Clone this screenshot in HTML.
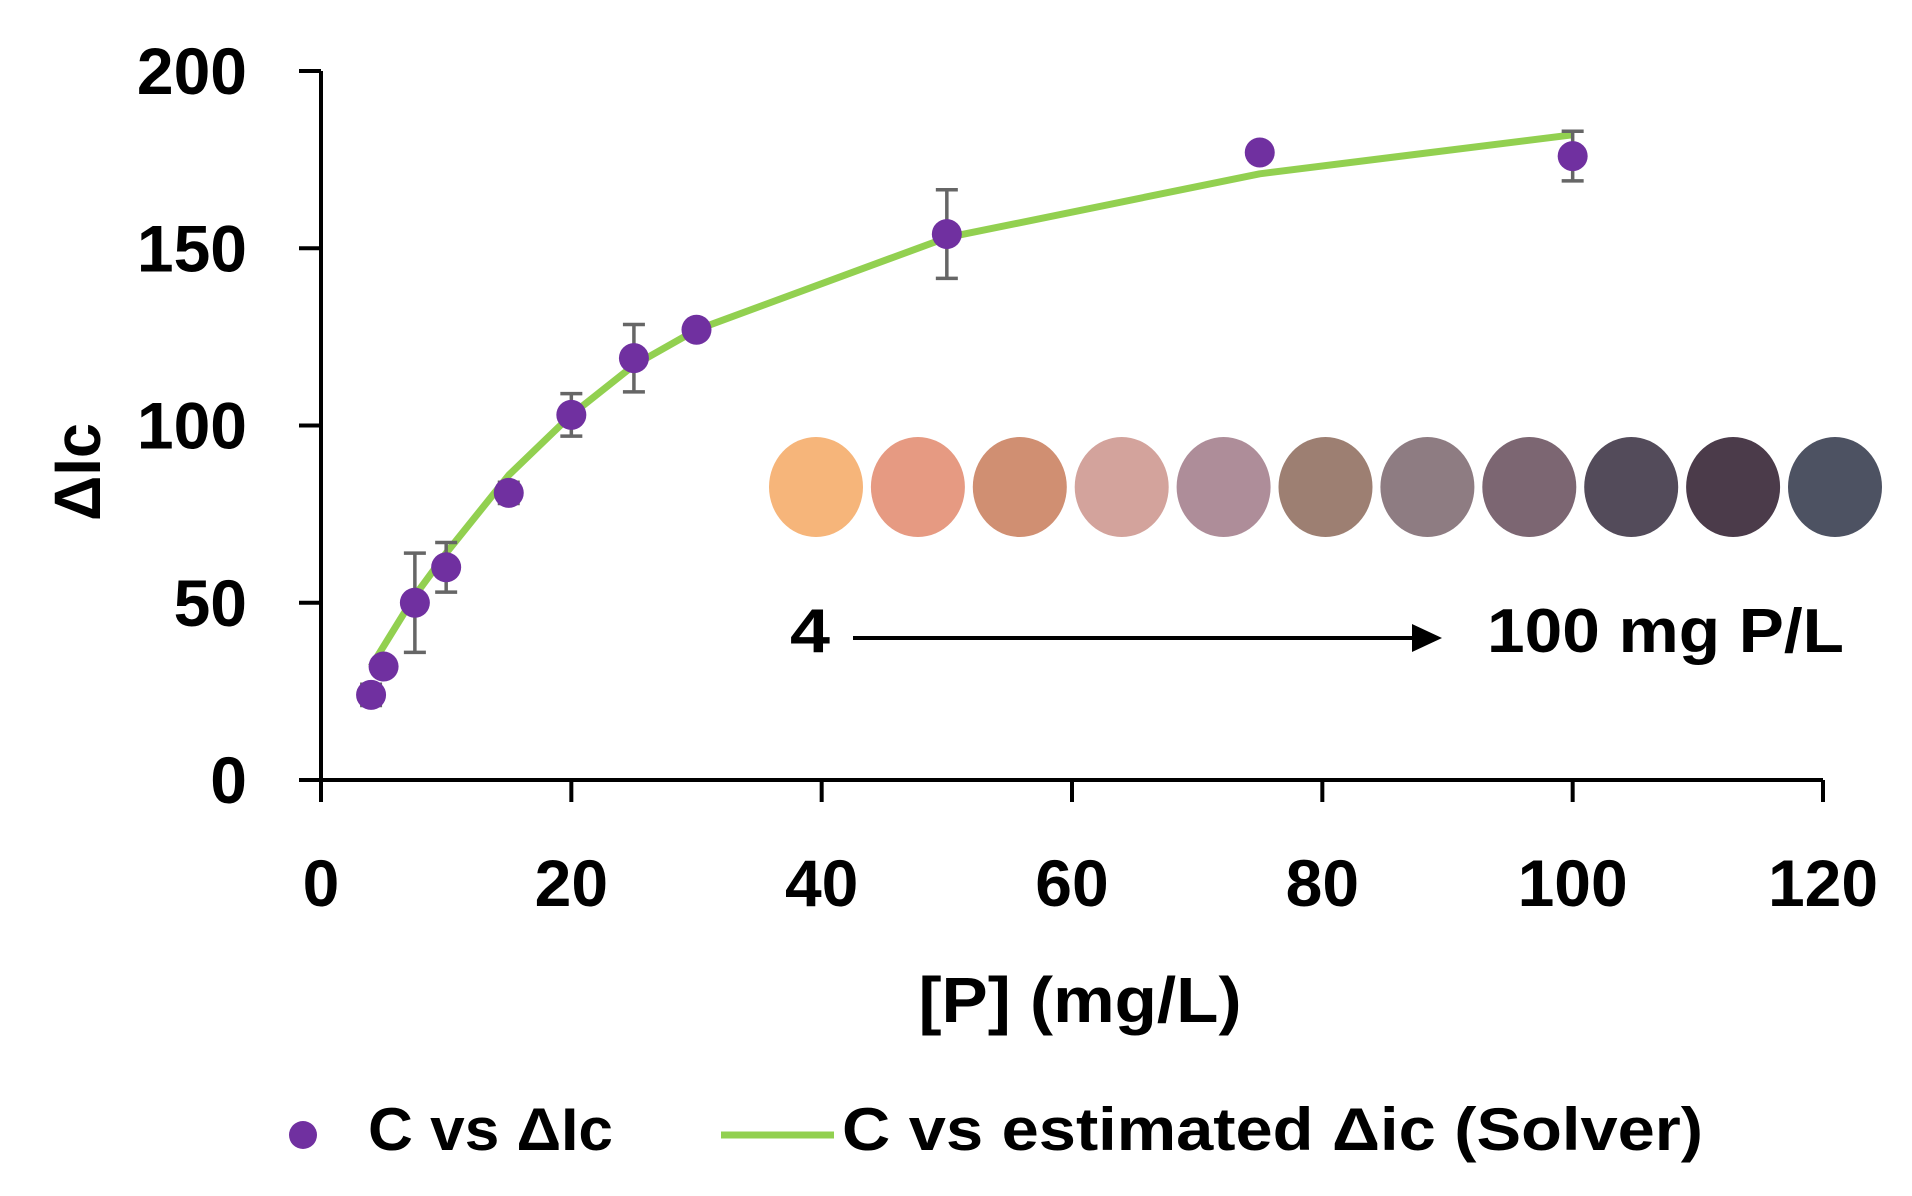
<!DOCTYPE html>
<html><head><meta charset="utf-8"><style>
html,body{margin:0;padding:0;background:#fff;}
svg{display:block;font-family:"Liberation Sans",Arial,sans-serif;font-weight:bold;}
</style></head><body>
<svg id="chart" width="1912" height="1196" viewBox="0 0 1912 1196" xmlns="http://www.w3.org/2000/svg">
<g id="swatches"></g>
<g id="axes"></g>
<g id="fit"></g>
<g id="err"></g>
<g id="pts"></g>
<text x="0" y="0" transform="translate(100,472) rotate(-90)" text-anchor="middle" font-size="66" textLength="98" lengthAdjust="spacingAndGlyphs">ΔIc</text>
<text x="1080" y="1022" text-anchor="middle" font-size="64" textLength="323" lengthAdjust="spacingAndGlyphs">[P] (mg/L)</text>
<text x="790" y="652" font-size="62" textLength="40" lengthAdjust="spacingAndGlyphs">4</text>
<line x1="853" y1="638" x2="1415" y2="638" stroke="#000" stroke-width="4"/>
<polygon points="1412,624 1442,638 1412,652" fill="#000"/>
<text x="1487" y="652" font-size="62" textLength="357" lengthAdjust="spacingAndGlyphs">100 mg P/L</text>
<g>
<circle cx="303" cy="1135" r="14" fill="#7030a0"/>
<text x="368" y="1150" font-size="60" textLength="245" lengthAdjust="spacingAndGlyphs">C vs ΔIc</text>
<line x1="721" y1="1135" x2="834" y2="1135" stroke="#92d050" stroke-width="7"/>
<text x="842" y="1150" font-size="60" textLength="861" lengthAdjust="spacingAndGlyphs">C vs estimated Δic (Solver)</text>
</g>
</svg>
<script>
const xValues=[4,5,7.5,10,15,20,25,30,50,75,100];
const yValues=[24,32,50,60,81,103,119,127,154,177,176];
const yErrors=[3,0,14,7,3,6,9.5,0,12.5,0,7];
const fitX=[4,7.5,10,15,20,25,30,50,75,100];
const fitY=[32,52,64,86,103,117,127,153,171,182];
const xTicks=[0,20,40,60,80,100,120];
const yTicks=[0,50,100,150,200];
const swatchColors=["#f6b57a","#e69a82","#d08f72","#d3a39c","#ae8d99","#9d7f72","#8e7c82","#7c6672","#534b5a","#4b3b4a","#4d5262"];

const NS="http://www.w3.org/2000/svg";
const X0=321,XPX=(1823-321)/120,Y0=780,YPX=(780-71)/200;
const sx=v=>X0+v*XPX, sy=v=>Y0-v*YPX;
function mk(tag,attrs,parent){const e=document.createElementNS(NS,tag);for(const k in attrs)e.setAttribute(k,attrs[k]);parent.appendChild(e);return e;}

const sw=document.getElementById('swatches');
swatchColors.forEach((c,i)=>{
  const e=mk('ellipse',{cx:816+i*101.9,cy:487,rx:47,ry:50,fill:c},sw);
  
  
});

const ax=document.getElementById('axes');
let a=mk('line',{x1:X0,y1:sy(200),x2:X0,y2:Y0,stroke:'#000','stroke-width':4},ax);


a=mk('line',{x1:X0-22,y1:Y0,x2:sx(120),y2:Y0,stroke:'#000','stroke-width':4},ax);


yTicks.forEach(t=>{
  const l=mk('line',{x1:X0-22,y1:sy(t),x2:X0,y2:sy(t),stroke:'#000','stroke-width':4},ax);
  
  
  const tx=mk('text',{x:247,y:sy(t)+23,'text-anchor':'end','font-size':66},ax);
  tx.textContent=t;
  
  
});
xTicks.forEach(t=>{
  const l=mk('line',{x1:sx(t),y1:Y0,x2:sx(t),y2:Y0+22,stroke:'#000','stroke-width':4},ax);
  
  
  const tx=mk('text',{x:sx(t),y:906,'text-anchor':'middle','font-size':66},ax);
  tx.textContent=t;
  
  
});

const fit=document.getElementById('fit');
const pl=mk('polyline',{points:fitX.map((x,i)=>sx(x)+','+sy(fitY[i])).join(' '),fill:'none',stroke:'#92d050','stroke-width':7,'stroke-linejoin':'round'},fit);



const eg=document.getElementById('err'),pg=document.getElementById('pts');
xValues.forEach((x,i)=>{
  const e=yErrors[i];
  if(e>0){
    const cx=sx(x),t=sy(yValues[i]+e),b=sy(yValues[i]-e);
    const p=mk('path',{d:`M${cx},${t}V${b}M${cx-11},${t}H${cx+11}M${cx-11},${b}H${cx+11}`,stroke:'#666','stroke-width':3.5,fill:'none'},eg);
    
    
  }
  const c=mk('circle',{cx:sx(x),cy:sy(yValues[i]),r:15,fill:'#7030a0'},pg);
  
  
});
</script>
</body></html>
